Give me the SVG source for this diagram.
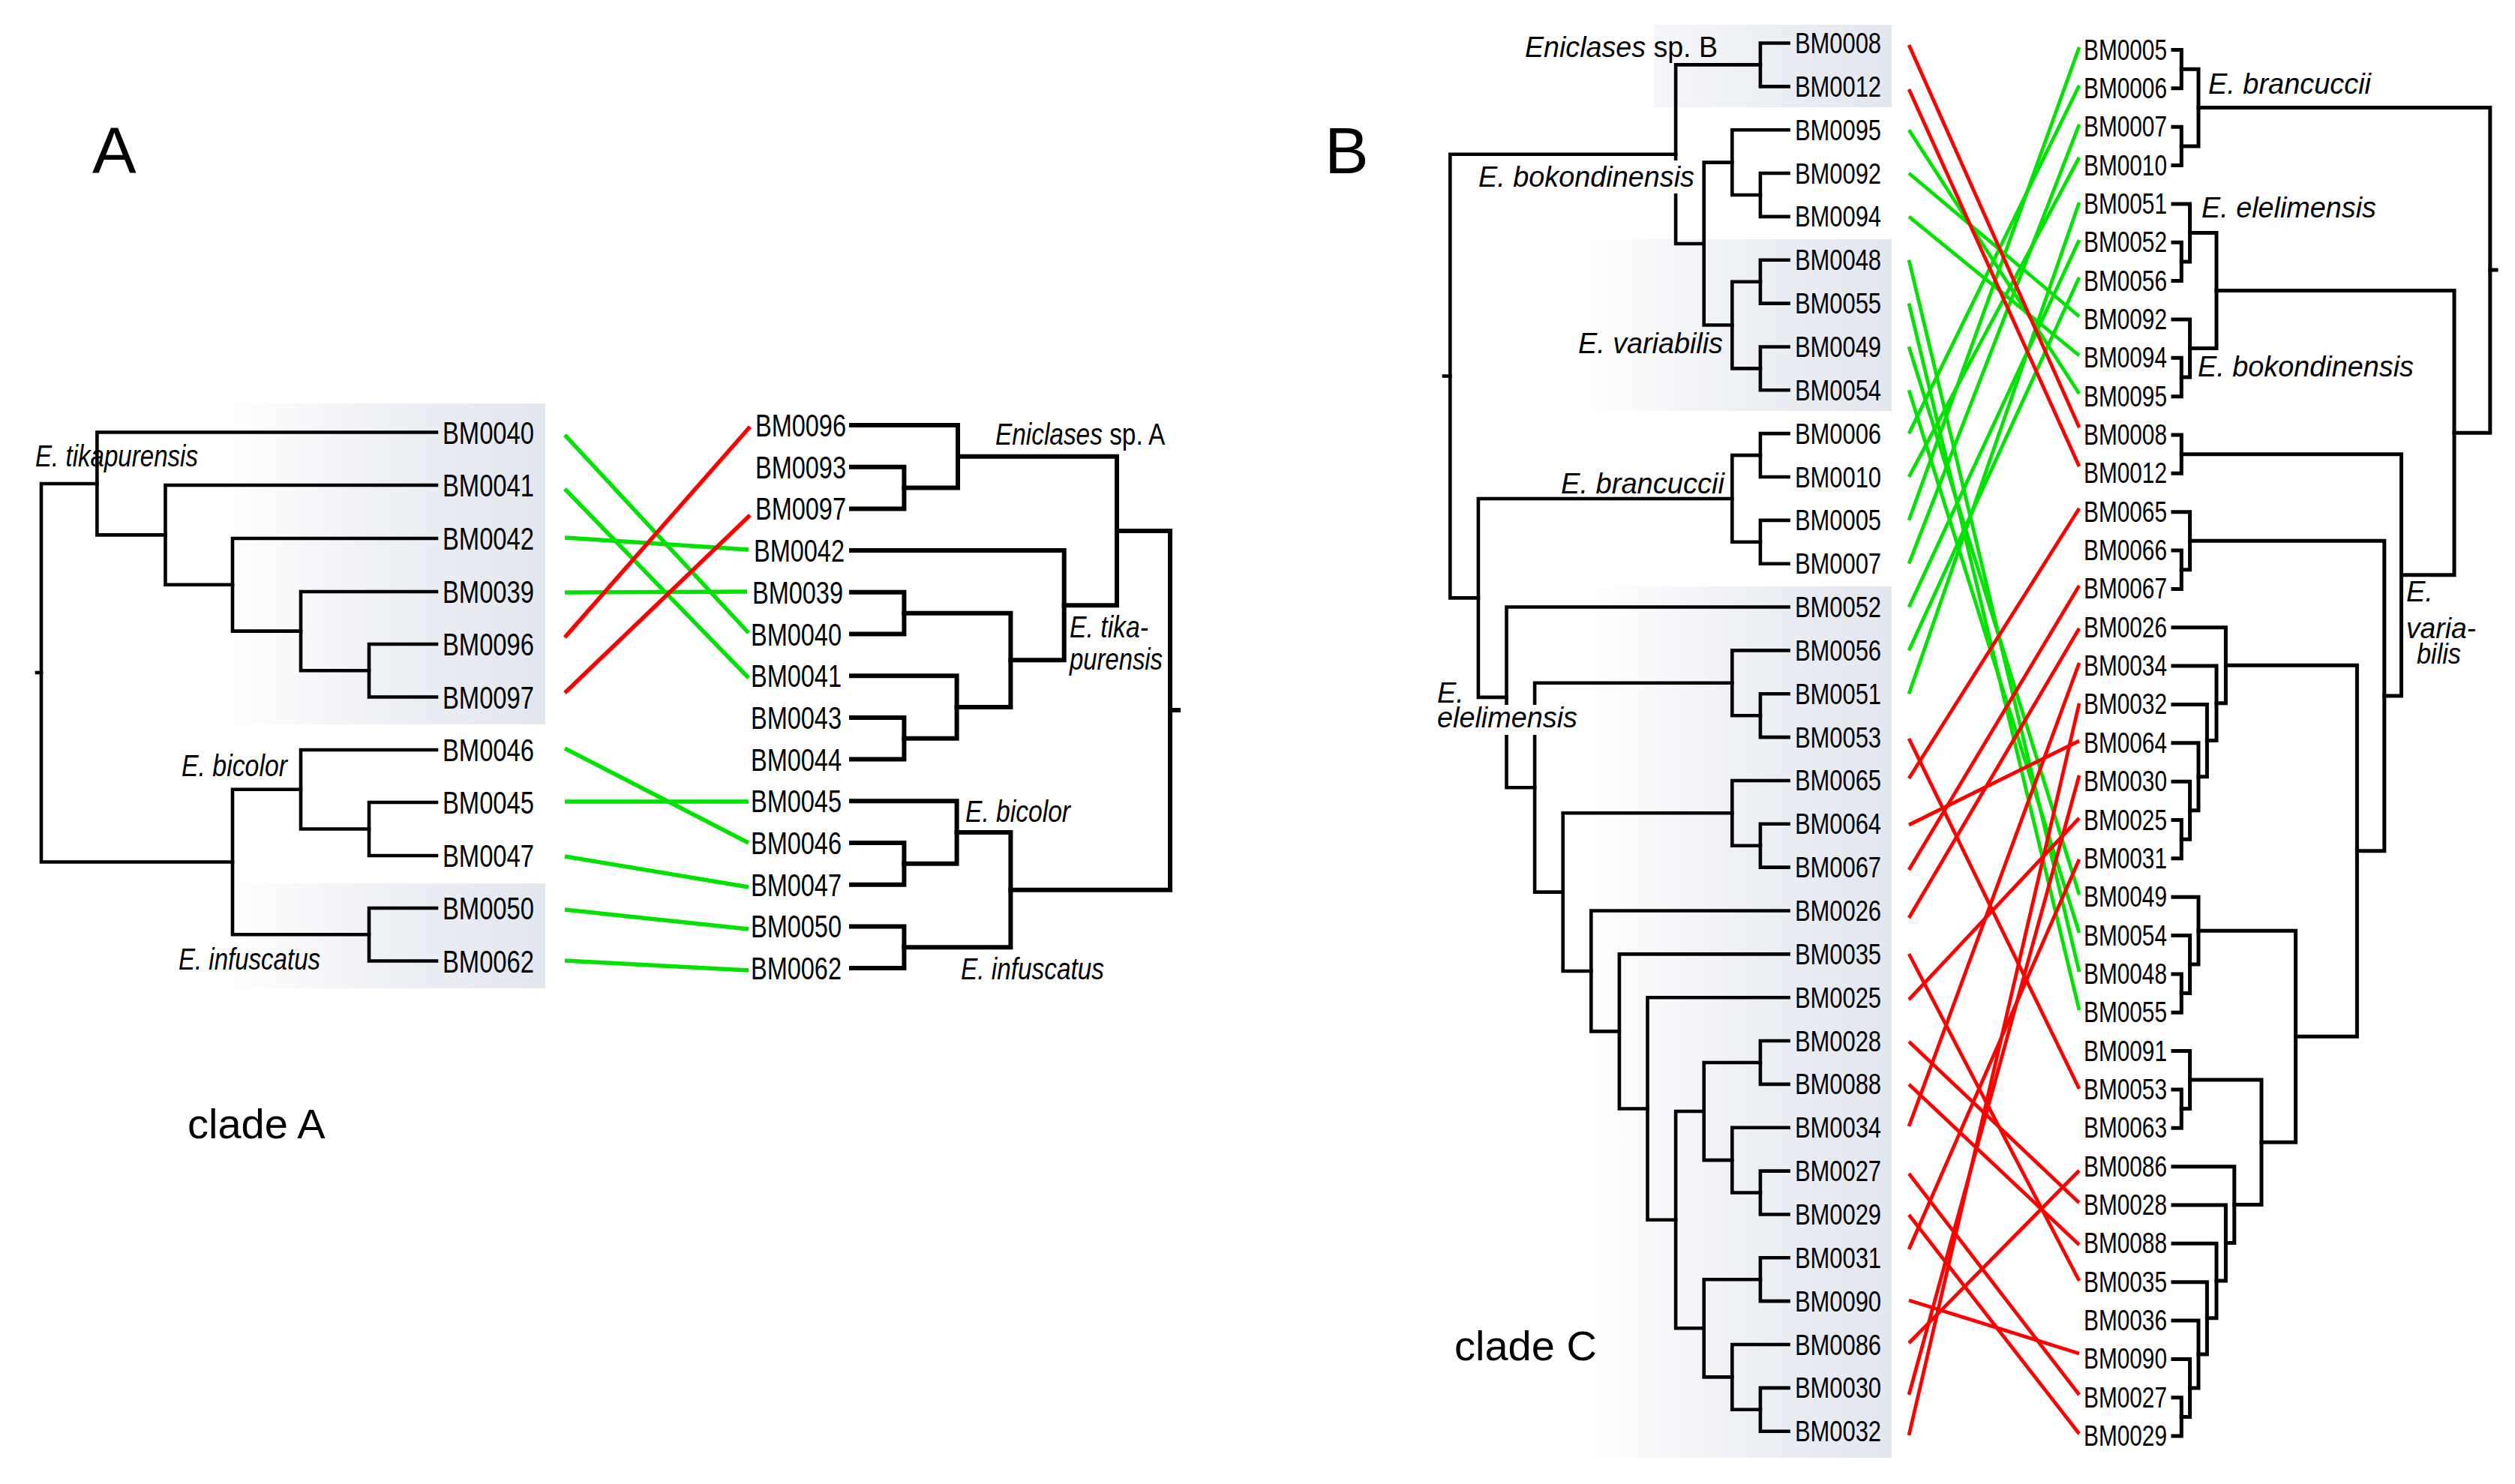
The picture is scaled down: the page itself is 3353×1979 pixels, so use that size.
<svg xmlns="http://www.w3.org/2000/svg" width="3353" height="1979" viewBox="0 0 3353 1979">
<defs>
<linearGradient id="shade" x1="0" y1="0" x2="1" y2="0">
<stop offset="0" stop-color="#e2e6ee" stop-opacity="0"/>
<stop offset="0.5" stop-color="#e2e6ee" stop-opacity="0.6"/>
<stop offset="1" stop-color="#e2e6ee" stop-opacity="1"/>
</linearGradient>
<linearGradient id="shade2" x1="0" y1="0" x2="1" y2="0">
<stop offset="0" stop-color="#e2e6ee" stop-opacity="0.35"/>
<stop offset="1" stop-color="#e2e6ee" stop-opacity="1"/>
</linearGradient>
<style>
.tr{fill:none;stroke:#000;stroke-linecap:square;stroke-linejoin:miter}
.ta{stroke-width:4.6}
.tb{stroke-width:6}
.tc{stroke-width:4.6}
.td{stroke-width:5}
.g{stroke:#00e200;fill:none}
.r{stroke:#ff0000;fill:none}
.wa{stroke-width:5.5}
.wb{stroke-width:4.8}
.lb{font-family:"Liberation Sans Narrow","Liberation Sans",Arial,sans-serif;fill:#000}
.la{font-size:42px}
.lc{font-size:38px}
.sp{font-family:"Liberation Sans Narrow","Liberation Sans",Arial,sans-serif;font-style:italic;fill:#000}
.spw{font-family:"Liberation Sans",Arial,sans-serif;font-style:italic;fill:#000}
.up{font-style:normal}
.spa{font-size:40px}
.spb{font-size:38px}
.big{font-family:"Liberation Sans",Arial,sans-serif;fill:#000}
</style>
</defs>
<rect width="3353" height="1979" fill="#fff"/>

<!-- shaded boxes -->
<g id="shading">
<rect x="300" y="538" width="427" height="428" fill="url(#shade)"/>
<rect x="300" y="1178" width="427" height="140" fill="url(#shade)"/>
<rect x="2205" y="33" width="317" height="110" fill="url(#shade2)"/>
<rect x="2110" y="319" width="412" height="229" fill="url(#shade)"/>
<rect x="2120" y="782" width="402" height="1162" fill="url(#shade)"/>
</g>

<!-- panel letters -->
<text id="labelA" class="big" x="123" y="231" font-size="88">A</text>
<text id="labelB" class="big" x="1766" y="231" font-size="88">B</text>
<text id="cladeA" class="big" x="250" y="1518" font-size="56">clade A</text>
<text id="cladeC" class="big" x="1939" y="1814" font-size="56">clade C</text>

<!-- ===== Panel A left tree ===== -->
<g id="treeA-left" class="tr ta">
<path d="M582 859 H492 V929.5 H582"/>
<path d="M582 789 H401 V894.25 H492"/>
<path d="M582 718 H310 V841.6 H401"/>
<path d="M582 647 H220.5 V779.8 H310"/>
<path d="M582 576.5 H129.4 V713.4 H220.5"/>
<path d="M582 1070 H492 V1141 H582"/>
<path d="M582 1000 H401 V1105.5 H492"/>
<path d="M582 1211 H492 V1281.5 H582"/>
<path d="M401 1052.75 H310 V1246.25 H492"/>
<path d="M129.4 645 H55 V1149.5 H310"/>
<path d="M49 897 H55"/>
</g>
<g id="leavesA-left" class="lb la">
<text id="aL0040" x="590" y="591.5" textLength="122" lengthAdjust="spacingAndGlyphs">BM0040</text>
<text id="aL0041" x="590" y="662" textLength="122" lengthAdjust="spacingAndGlyphs">BM0041</text>
<text id="aL0042" x="590" y="733" textLength="122" lengthAdjust="spacingAndGlyphs">BM0042</text>
<text id="aL0039" x="590" y="804" textLength="122" lengthAdjust="spacingAndGlyphs">BM0039</text>
<text id="aL0096" x="590" y="874" textLength="122" lengthAdjust="spacingAndGlyphs">BM0096</text>
<text id="aL0097" x="590" y="944.5" textLength="122" lengthAdjust="spacingAndGlyphs">BM0097</text>
<text id="aL0046" x="590" y="1015" textLength="122" lengthAdjust="spacingAndGlyphs">BM0046</text>
<text id="aL0045" x="590" y="1085" textLength="122" lengthAdjust="spacingAndGlyphs">BM0045</text>
<text id="aL0047" x="590" y="1156" textLength="122" lengthAdjust="spacingAndGlyphs">BM0047</text>
<text id="aL0050" x="590" y="1226" textLength="122" lengthAdjust="spacingAndGlyphs">BM0050</text>
<text id="aL0062" x="590" y="1296.5" textLength="122" lengthAdjust="spacingAndGlyphs">BM0062</text>
</g>
<g id="cladesA-left" class="sp spa">
<text x="47" y="622" textLength="217" lengthAdjust="spacingAndGlyphs">E. tikapurensis</text>
<text x="242" y="1035" textLength="141" lengthAdjust="spacingAndGlyphs">E. bicolor</text>
<text x="238" y="1293" textLength="189" lengthAdjust="spacingAndGlyphs">E. infuscatus</text>
</g>

<!-- ===== Panel A right tree ===== -->
<g id="treeA-right" class="tr tb">
<path d="M1135 622.7 H1205.4 V678.4 H1135"/>
<path d="M1135 567 H1277 V650.55 H1205.4"/>
<path d="M1135 789.8 H1205.4 V845.5 H1135"/>
<path d="M1135 956.9 H1205.4 V1012.6 H1135"/>
<path d="M1135 901.2 H1275.6 V984.75 H1205.4"/>
<path d="M1205.4 817.65 H1347.4 V942.97 H1275.6"/>
<path d="M1135 734.1 H1418.7 V880.3 H1347.4"/>
<path d="M1277 608.8 H1489 V807.2 H1418.7"/>
<path d="M1135 1124 H1205.4 V1179.7 H1135"/>
<path d="M1135 1068.3 H1275.6 V1151.85 H1205.4"/>
<path d="M1135 1235.4 H1205.4 V1291.1 H1135"/>
<path d="M1275.6 1110.1 H1347.4 V1263.25 H1205.4"/>
<path d="M1489 708 H1560 V1186.7 H1347.4"/>
<path d="M1560 947 H1571"/>
</g>
<g id="leavesA-right" class="lb la">
<text id="aR0096" x="1007" y="582" textLength="121" lengthAdjust="spacingAndGlyphs">BM0096</text>
<text id="aR0093" x="1007" y="637.7" textLength="121" lengthAdjust="spacingAndGlyphs">BM0093</text>
<text id="aR0097" x="1007" y="693.4" textLength="121" lengthAdjust="spacingAndGlyphs">BM0097</text>
<text id="aR0042" x="1005" y="749.1" textLength="121" lengthAdjust="spacingAndGlyphs">BM0042</text>
<text id="aR0039" x="1003" y="804.8" textLength="121" lengthAdjust="spacingAndGlyphs">BM0039</text>
<text id="aR0040" x="1001" y="860.5" textLength="121" lengthAdjust="spacingAndGlyphs">BM0040</text>
<text id="aR0041" x="1001" y="916.2" textLength="121" lengthAdjust="spacingAndGlyphs">BM0041</text>
<text id="aR0043" x="1001" y="971.9" textLength="121" lengthAdjust="spacingAndGlyphs">BM0043</text>
<text id="aR0044" x="1001" y="1027.6" textLength="121" lengthAdjust="spacingAndGlyphs">BM0044</text>
<text id="aR0045" x="1001" y="1083.3" textLength="121" lengthAdjust="spacingAndGlyphs">BM0045</text>
<text id="aR0046" x="1001" y="1139" textLength="121" lengthAdjust="spacingAndGlyphs">BM0046</text>
<text id="aR0047" x="1001" y="1194.7" textLength="121" lengthAdjust="spacingAndGlyphs">BM0047</text>
<text id="aR0050" x="1001" y="1250.4" textLength="121" lengthAdjust="spacingAndGlyphs">BM0050</text>
<text id="aR0062" x="1001" y="1306.1" textLength="121" lengthAdjust="spacingAndGlyphs">BM0062</text>
</g>
<g id="cladesA-right">
<text class="spw" font-size="40" transform="translate(1327 593) scale(0.835 1)">Eniclases<tspan class="up"> sp. A</tspan></text>
<text class="sp spa" x="1426" y="850"><tspan x="1426" textLength="105" lengthAdjust="spacingAndGlyphs">E. tika-</tspan><tspan x="1426" dy="43" textLength="124" lengthAdjust="spacingAndGlyphs">purensis</tspan></text>
<text class="sp spa" x="1287" y="1096" textLength="140" lengthAdjust="spacingAndGlyphs">E. bicolor</text>
<text class="sp spa" x="1281" y="1306" textLength="191" lengthAdjust="spacingAndGlyphs">E. infuscatus</text>
</g>

<!-- ===== Panel A connectors ===== -->
<g id="connectorsA" class="wa">
<line class="g" x1="753" y1="580" x2="998" y2="844"/>
<line class="g" x1="753" y1="652" x2="998" y2="904"/>
<line class="g" x1="753" y1="717" x2="998" y2="733"/>
<line class="g" x1="753" y1="790" x2="996" y2="789"/>
<line class="r" x1="753" y1="850" x2="1000" y2="569"/>
<line class="r" x1="753" y1="924" x2="1000" y2="687"/>
<line class="g" x1="753" y1="998" x2="998" y2="1124"/>
<line class="g" x1="753" y1="1069" x2="998" y2="1069"/>
<line class="g" x1="753" y1="1142" x2="998" y2="1183"/>
<line class="g" x1="753" y1="1213" x2="998" y2="1239"/>
<line class="g" x1="753" y1="1281" x2="998" y2="1294"/>
</g>

<!-- ===== Panel B left tree ===== -->
<g id="treeB-left" class="tr tc">
<path d="M2384.5 57.5 H2346.9 V115.35 H2384.5"/>
<path d="M2384.5 231.05 H2346.9 V288.9 H2384.5"/>
<path d="M2384.5 173.2 H2309.3 V259.98 H2346.9"/>
<path d="M2384.5 346.75 H2346.9 V404.6 H2384.5"/>
<path d="M2384.5 462.45 H2346.9 V520.3 H2384.5"/>
<path d="M2346.9 375.68 H2309.3 V491.38 H2346.9"/>
<path d="M2309.3 216.6 H2271.7 V433.5 H2309.3"/>
<path d="M2346.9 86.4 H2234.1 V325.05 H2271.7"/>
<path d="M2384.5 578.15 H2346.9 V636 H2384.5"/>
<path d="M2384.5 693.85 H2346.9 V751.7 H2384.5"/>
<path d="M2346.9 607.1 H2309.3 V722.8 H2346.9"/>
<path d="M2384.5 925.25 H2346.9 V983.1 H2384.5"/>
<path d="M2384.5 867.4 H2309.3 V954.2 H2346.9"/>
<path d="M2384.5 1098.8 H2346.9 V1156.65 H2384.5"/>
<path d="M2384.5 1040.95 H2309.3 V1127.7 H2346.9"/>
<path d="M2384.5 1388.05 H2346.9 V1445.9 H2384.5"/>
<path d="M2384.5 1561.6 H2346.9 V1619.45 H2384.5"/>
<path d="M2384.5 1503.75 H2309.3 V1590.5 H2346.9"/>
<path d="M2346.9 1417 H2271.7 V1547.1 H2309.3"/>
<path d="M2384.5 1677.3 H2346.9 V1735.15 H2384.5"/>
<path d="M2384.5 1850.85 H2346.9 V1908.7 H2384.5"/>
<path d="M2384.5 1793 H2309.3 V1879.8 H2346.9"/>
<path d="M2346.9 1706.2 H2271.7 V1836.4 H2309.3"/>
<path d="M2271.7 1482.05 H2234.1 V1771.3 H2271.7"/>
<path d="M2384.5 1330.2 H2196.5 V1626.7 H2234.1"/>
<path d="M2384.5 1272.35 H2158.9 V1478.45 H2196.5"/>
<path d="M2384.5 1214.5 H2121.3 V1375.4 H2158.9"/>
<path d="M2309.3 1084.3 H2083.7 V1294.95 H2121.3"/>
<path d="M2309.3 910.8 H2046.1 V1189.6 H2083.7"/>
<path d="M2384.5 809.55 H2008.5 V1050.2 H2046.1"/>
<path d="M2309.3 664.95 H1970.9 V929.9 H2008.5"/>
<path d="M2234.1 205.7 H1933.3 V797.4 H1970.9"/>
<path d="M1925 501.5 H1933.3"/>
</g>
<g id="leavesB-left" class="lb lc">
<text id="bL0008" x="2393" y="71" textLength="115" lengthAdjust="spacingAndGlyphs">BM0008</text>
<text id="bL0012" x="2393" y="128.85" textLength="115" lengthAdjust="spacingAndGlyphs">BM0012</text>
<text id="bL0095" x="2393" y="186.7" textLength="115" lengthAdjust="spacingAndGlyphs">BM0095</text>
<text id="bL0092" x="2393" y="244.55" textLength="115" lengthAdjust="spacingAndGlyphs">BM0092</text>
<text id="bL0094" x="2393" y="302.4" textLength="115" lengthAdjust="spacingAndGlyphs">BM0094</text>
<text id="bL0048" x="2393" y="360.25" textLength="115" lengthAdjust="spacingAndGlyphs">BM0048</text>
<text id="bL0055" x="2393" y="418.1" textLength="115" lengthAdjust="spacingAndGlyphs">BM0055</text>
<text id="bL0049" x="2393" y="475.95" textLength="115" lengthAdjust="spacingAndGlyphs">BM0049</text>
<text id="bL0054" x="2393" y="533.8" textLength="115" lengthAdjust="spacingAndGlyphs">BM0054</text>
<text id="bL0006" x="2393" y="591.65" textLength="115" lengthAdjust="spacingAndGlyphs">BM0006</text>
<text id="bL0010" x="2393" y="649.5" textLength="115" lengthAdjust="spacingAndGlyphs">BM0010</text>
<text id="bL0005" x="2393" y="707.35" textLength="115" lengthAdjust="spacingAndGlyphs">BM0005</text>
<text id="bL0007" x="2393" y="765.2" textLength="115" lengthAdjust="spacingAndGlyphs">BM0007</text>
<text id="bL0052" x="2393" y="823.05" textLength="115" lengthAdjust="spacingAndGlyphs">BM0052</text>
<text id="bL0056" x="2393" y="880.9" textLength="115" lengthAdjust="spacingAndGlyphs">BM0056</text>
<text id="bL0051" x="2393" y="938.75" textLength="115" lengthAdjust="spacingAndGlyphs">BM0051</text>
<text id="bL0053" x="2393" y="996.6" textLength="115" lengthAdjust="spacingAndGlyphs">BM0053</text>
<text id="bL0065" x="2393" y="1054.45" textLength="115" lengthAdjust="spacingAndGlyphs">BM0065</text>
<text id="bL0064" x="2393" y="1112.3" textLength="115" lengthAdjust="spacingAndGlyphs">BM0064</text>
<text id="bL0067" x="2393" y="1170.15" textLength="115" lengthAdjust="spacingAndGlyphs">BM0067</text>
<text id="bL0026" x="2393" y="1228" textLength="115" lengthAdjust="spacingAndGlyphs">BM0026</text>
<text id="bL0035" x="2393" y="1285.85" textLength="115" lengthAdjust="spacingAndGlyphs">BM0035</text>
<text id="bL0025" x="2393" y="1343.7" textLength="115" lengthAdjust="spacingAndGlyphs">BM0025</text>
<text id="bL0028" x="2393" y="1401.55" textLength="115" lengthAdjust="spacingAndGlyphs">BM0028</text>
<text id="bL0088" x="2393" y="1459.4" textLength="115" lengthAdjust="spacingAndGlyphs">BM0088</text>
<text id="bL0034" x="2393" y="1517.25" textLength="115" lengthAdjust="spacingAndGlyphs">BM0034</text>
<text id="bL0027" x="2393" y="1575.1" textLength="115" lengthAdjust="spacingAndGlyphs">BM0027</text>
<text id="bL0029" x="2393" y="1632.95" textLength="115" lengthAdjust="spacingAndGlyphs">BM0029</text>
<text id="bL0031" x="2393" y="1690.8" textLength="115" lengthAdjust="spacingAndGlyphs">BM0031</text>
<text id="bL0090" x="2393" y="1748.65" textLength="115" lengthAdjust="spacingAndGlyphs">BM0090</text>
<text id="bL0086" x="2393" y="1806.5" textLength="115" lengthAdjust="spacingAndGlyphs">BM0086</text>
<text id="bL0030" x="2393" y="1864.35" textLength="115" lengthAdjust="spacingAndGlyphs">BM0030</text>
<text id="bL0032" x="2393" y="1922.2" textLength="115" lengthAdjust="spacingAndGlyphs">BM0032</text>
</g>
<g id="cladesB-left">
<text class="spw" font-size="38" transform="translate(2033 76) scale(0.99 1)">Eniclases<tspan class="up"> sp. B</tspan></text>
<rect x="1966" y="214" width="296" height="44" fill="#fff"/>
<text class="sp spb" x="1971" y="249" textLength="288" lengthAdjust="spacingAndGlyphs">E. bokondinensis</text>
<text class="sp spb" x="2104" y="470.5" textLength="193" lengthAdjust="spacingAndGlyphs">E. variabilis</text>
<text class="sp spb" x="2081" y="657.6" textLength="218" lengthAdjust="spacingAndGlyphs">E. brancuccii</text>
<rect x="1912" y="940" width="198" height="40" fill="#fff"/>
<text class="sp spb" x="1916" y="937"><tspan x="1916">E.</tspan><tspan x="1916" dy="32.5" textLength="187" lengthAdjust="spacingAndGlyphs">elelimensis</tspan></text>
</g>

<!-- ===== Panel B right tree ===== -->
<g id="treeB-right" class="tr td">
<path d="M2897 66.5 H2908.3 V117.85 H2897"/>
<path d="M2897 169.2 H2908.3 V220.55 H2897"/>
<path d="M2908.3 92.2 H2931 V194.9 H2908.3"/>
<path d="M2897 323.25 H2908.3 V374.6 H2897"/>
<path d="M2897 271.9 H2919.6 V348.9 H2908.3"/>
<path d="M2897 477.3 H2908.3 V528.65 H2897"/>
<path d="M2897 425.95 H2919.6 V503 H2908.3"/>
<path d="M2919.6 310.4 H2955 V464.5 H2919.6"/>
<path d="M2897 580 H2908.3 V631.35 H2897"/>
<path d="M2897 734.05 H2908.3 V785.4 H2897"/>
<path d="M2897 682.7 H2919.6 V759.7 H2908.3"/>
<path d="M2897 1093.5 H2908.3 V1144.85 H2897"/>
<path d="M2897 1042.15 H2919.6 V1119.2 H2908.3"/>
<path d="M2897 990.8 H2931 V1080.7 H2919.6"/>
<path d="M2897 939.45 H2942.4 V1035.75 H2931"/>
<path d="M2897 888.1 H2955 V987.6 H2942.4"/>
<path d="M2897 836.75 H2967.4 V937.85 H2955"/>
<path d="M2897 1298.9 H2908.3 V1350.25 H2897"/>
<path d="M2897 1247.55 H2919.6 V1324.6 H2908.3"/>
<path d="M2897 1196.2 H2931 V1286.1 H2919.6"/>
<path d="M2897 1452.95 H2908.3 V1504.3 H2897"/>
<path d="M2897 1401.6 H2919.6 V1478.6 H2908.3"/>
<path d="M2897 1863.75 H2908.3 V1915.1 H2897"/>
<path d="M2897 1812.4 H2919.6 V1889.4 H2908.3"/>
<path d="M2897 1761.05 H2931 V1850.9 H2919.6"/>
<path d="M2897 1709.7 H2942.4 V1806 H2931"/>
<path d="M2897 1658.35 H2955 V1757.85 H2942.4"/>
<path d="M2897 1607 H2967.4 V1708.1 H2955"/>
<path d="M2897 1555.65 H2978.8 V1657.55 H2967.4"/>
<path d="M2919.6 1440.1 H3015 V1606.6 H2978.8"/>
<path d="M2931 1241.15 H3060.6 V1523.35 H3015"/>
<path d="M2967.4 887.3 H3142.4 V1382.25 H3060.6"/>
<path d="M2919.6 721.2 H3178.8 V1134.8 H3142.4"/>
<path d="M2908.3 605.7 H3201.5 V928 H3178.8"/>
<path d="M2955 387.45 H3272 V766.85 H3201.5"/>
<path d="M2931 143.55 H3319.8 V577.15 H3272"/>
<path d="M3319.8 360 H3328"/>
</g>
<g id="leavesB-right" class="lb lc">
<text id="bR0005" x="2778" y="79.5" textLength="111" lengthAdjust="spacingAndGlyphs">BM0005</text>
<text id="bR0006" x="2778" y="130.85" textLength="111" lengthAdjust="spacingAndGlyphs">BM0006</text>
<text id="bR0007" x="2778" y="182.2" textLength="111" lengthAdjust="spacingAndGlyphs">BM0007</text>
<text id="bR0010" x="2778" y="233.55" textLength="111" lengthAdjust="spacingAndGlyphs">BM0010</text>
<text id="bR0051" x="2778" y="284.9" textLength="111" lengthAdjust="spacingAndGlyphs">BM0051</text>
<text id="bR0052" x="2778" y="336.25" textLength="111" lengthAdjust="spacingAndGlyphs">BM0052</text>
<text id="bR0056" x="2778" y="387.6" textLength="111" lengthAdjust="spacingAndGlyphs">BM0056</text>
<text id="bR0092" x="2778" y="438.95" textLength="111" lengthAdjust="spacingAndGlyphs">BM0092</text>
<text id="bR0094" x="2778" y="490.3" textLength="111" lengthAdjust="spacingAndGlyphs">BM0094</text>
<text id="bR0095" x="2778" y="541.65" textLength="111" lengthAdjust="spacingAndGlyphs">BM0095</text>
<text id="bR0008" x="2778" y="593" textLength="111" lengthAdjust="spacingAndGlyphs">BM0008</text>
<text id="bR0012" x="2778" y="644.35" textLength="111" lengthAdjust="spacingAndGlyphs">BM0012</text>
<text id="bR0065" x="2778" y="695.7" textLength="111" lengthAdjust="spacingAndGlyphs">BM0065</text>
<text id="bR0066" x="2778" y="747.05" textLength="111" lengthAdjust="spacingAndGlyphs">BM0066</text>
<text id="bR0067" x="2778" y="798.4" textLength="111" lengthAdjust="spacingAndGlyphs">BM0067</text>
<text id="bR0026" x="2778" y="849.75" textLength="111" lengthAdjust="spacingAndGlyphs">BM0026</text>
<text id="bR0034" x="2778" y="901.1" textLength="111" lengthAdjust="spacingAndGlyphs">BM0034</text>
<text id="bR0032" x="2778" y="952.45" textLength="111" lengthAdjust="spacingAndGlyphs">BM0032</text>
<text id="bR0064" x="2778" y="1003.8" textLength="111" lengthAdjust="spacingAndGlyphs">BM0064</text>
<text id="bR0030" x="2778" y="1055.15" textLength="111" lengthAdjust="spacingAndGlyphs">BM0030</text>
<text id="bR0025" x="2778" y="1106.5" textLength="111" lengthAdjust="spacingAndGlyphs">BM0025</text>
<text id="bR0031" x="2778" y="1157.85" textLength="111" lengthAdjust="spacingAndGlyphs">BM0031</text>
<text id="bR0049" x="2778" y="1209.2" textLength="111" lengthAdjust="spacingAndGlyphs">BM0049</text>
<text id="bR0054" x="2778" y="1260.55" textLength="111" lengthAdjust="spacingAndGlyphs">BM0054</text>
<text id="bR0048" x="2778" y="1311.9" textLength="111" lengthAdjust="spacingAndGlyphs">BM0048</text>
<text id="bR0055" x="2778" y="1363.25" textLength="111" lengthAdjust="spacingAndGlyphs">BM0055</text>
<text id="bR0091" x="2778" y="1414.6" textLength="111" lengthAdjust="spacingAndGlyphs">BM0091</text>
<text id="bR0053" x="2778" y="1465.95" textLength="111" lengthAdjust="spacingAndGlyphs">BM0053</text>
<text id="bR0063" x="2778" y="1517.3" textLength="111" lengthAdjust="spacingAndGlyphs">BM0063</text>
<text id="bR0086" x="2778" y="1568.65" textLength="111" lengthAdjust="spacingAndGlyphs">BM0086</text>
<text id="bR0028" x="2778" y="1620" textLength="111" lengthAdjust="spacingAndGlyphs">BM0028</text>
<text id="bR0088" x="2778" y="1671.35" textLength="111" lengthAdjust="spacingAndGlyphs">BM0088</text>
<text id="bR0035" x="2778" y="1722.7" textLength="111" lengthAdjust="spacingAndGlyphs">BM0035</text>
<text id="bR0036" x="2778" y="1774.05" textLength="111" lengthAdjust="spacingAndGlyphs">BM0036</text>
<text id="bR0090" x="2778" y="1825.4" textLength="111" lengthAdjust="spacingAndGlyphs">BM0090</text>
<text id="bR0027" x="2778" y="1876.75" textLength="111" lengthAdjust="spacingAndGlyphs">BM0027</text>
<text id="bR0029" x="2778" y="1928.1" textLength="111" lengthAdjust="spacingAndGlyphs">BM0029</text>
</g>
<g id="cladesB-right" class="sp spb">
<text x="2944" y="125" textLength="217" lengthAdjust="spacingAndGlyphs">E. brancuccii</text>
<text x="2935" y="290" textLength="233" lengthAdjust="spacingAndGlyphs">E. elelimensis</text>
<text x="2930" y="502" textLength="288" lengthAdjust="spacingAndGlyphs">E. bokondinensis</text>
<text x="3208" y="802"><tspan x="3208">E.</tspan><tspan x="3208" dy="49" textLength="93" lengthAdjust="spacingAndGlyphs">varia-</tspan><tspan x="3222" dy="34" textLength="59" lengthAdjust="spacingAndGlyphs">bilis</tspan></text>
</g>

<!-- ===== Panel B connectors ===== -->
<g id="connectorsB" class="wb">
<line class="g" x1="2545" y1="173.2" x2="2772" y2="525"/>
<line class="g" x1="2545" y1="231" x2="2772" y2="422"/>
<line class="g" x1="2545" y1="288.9" x2="2772" y2="474"/>
<line class="g" x1="2545" y1="346.7" x2="2772" y2="1296"/>
<line class="g" x1="2545" y1="404.6" x2="2772" y2="1347"/>
<line class="g" x1="2545" y1="462.4" x2="2772" y2="1193"/>
<line class="g" x1="2545" y1="520.3" x2="2772" y2="1244"/>
<line class="g" x1="2545" y1="578.1" x2="2772" y2="114"/>
<line class="g" x1="2545" y1="636" x2="2772" y2="210"/>
<line class="g" x1="2545" y1="693.8" x2="2772" y2="63"/>
<line class="g" x1="2545" y1="751.7" x2="2772" y2="166"/>
<line class="g" x1="2545" y1="809.5" x2="2772" y2="320"/>
<line class="g" x1="2545" y1="867.4" x2="2772" y2="370"/>
<line class="g" x1="2545" y1="925.2" x2="2772" y2="270"/>
<line class="r" x1="2545" y1="60" x2="2772" y2="570"/>
<line class="r" x1="2545" y1="119" x2="2772" y2="622"/>
<line class="r" x1="2545" y1="985" x2="2772" y2="1452"/>
<line class="r" x1="2545" y1="1038" x2="2772" y2="678"/>
<line class="r" x1="2545" y1="1100" x2="2772" y2="988"/>
<line class="r" x1="2545" y1="1160" x2="2772" y2="781"/>
<line class="r" x1="2545" y1="1224" x2="2772" y2="838"/>
<line class="r" x1="2545" y1="1272" x2="2772" y2="1708"/>
<line class="r" x1="2545" y1="1333" x2="2772" y2="1091"/>
<line class="r" x1="2545" y1="1389" x2="2772" y2="1604"/>
<line class="r" x1="2545" y1="1446" x2="2772" y2="1660"/>
<line class="r" x1="2545" y1="1502" x2="2772" y2="884"/>
<line class="r" x1="2545" y1="1565" x2="2772" y2="1860"/>
<line class="r" x1="2545" y1="1620" x2="2772" y2="1912"/>
<line class="r" x1="2545" y1="1666" x2="2772" y2="1146"/>
<line class="r" x1="2545" y1="1734" x2="2772" y2="1805"/>
<line class="r" x1="2545" y1="1791" x2="2772" y2="1561"/>
<line class="r" x1="2545" y1="1860" x2="2772" y2="1034"/>
<line class="r" x1="2545" y1="1914" x2="2772" y2="938"/>
</g>
</svg>
